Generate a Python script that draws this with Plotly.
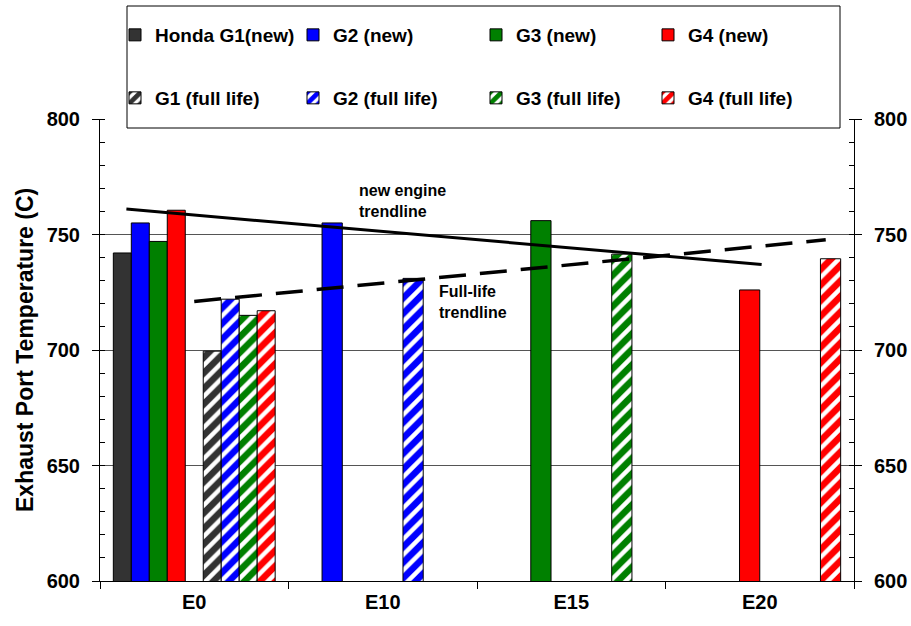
import plotly.graph_objects as go

categories = ["E0", "E10", "E15", "E20"]

# exhaust port temperature (C), None = no bar in that group
g1_new = [742, None, None, None]
g2_new = [755, 755, None, None]
g3_new = [747, None, 756, None]
g4_new = [760.5, None, None, 726]
g1_full = [699.5, None, None, None]
g2_full = [722, 731, None, None]
g3_full = [715, None, 741.5, None]
g4_full = [717, None, None, 739.5]

# trendlines (x in category units, 0 = left edge of E0)
new_trend_x = [0.14, 3.51]
new_trend_y = [761, 737]
full_trend_x = [0.50, 3.85]
full_trend_y = [721, 747.7]

FONT = "Liberation Sans, Arial, Helvetica, sans-serif"

series = [
    ("Honda G1(new)", g1_new, "#333333", 0, False),
    ("G2 (new)", g2_new, "#0000ff", 1, False),
    ("G3 (new)", g3_new, "#008000", 2, False),
    ("G4 (new)", g4_new, "#ff0000", 3, False),
    ("G1 (full life)", g1_full, "#333333", 0, True),
    ("G2 (full life)", g2_full, "#0000ff", 1, True),
    ("G3 (full life)", g3_full, "#008000", 2, True),
    ("G4 (full life)", g4_full, "#ff0000", 3, True),
]

# legend layout: column pixel x of swatch centre, row pixel y
leg_cols = [136, 314, 497, 669]
leg_rows = [35, 98]

MARGIN = 0.0707


def slot_geom(cat, g, full):
    # E0 has 9 slots (gap in the middle), the others 8
    if cat == 0:
        n = 9
        slot = g + (5 if full else 0)
    else:
        n = 8
        slot = g + (4 if full else 0)
    w = (1 - 2 * MARGIN) / n
    return MARGIN + slot * w, w


fig = go.Figure()
layout_legends = {}
for k, (name, vals, color, g, full) in enumerate(series):
    xs, ys, offs, wids = [], [], [], []
    for i, v in enumerate(vals):
        if v is None:
            continue
        o, w = slot_geom(i, g, full)
        xs.append(i)
        ys.append(v)
        offs.append(o)
        wids.append(w)
    marker = dict(color=color, line=dict(color="black", width=1))
    if full:
        marker["pattern"] = dict(shape="/", fgcolor=color, bgcolor="white",
                                 size=11, solidity=0.6, fgopacity=1)
    lname = "legend" if k == 0 else "legend%d" % (k + 1)
    fig.add_trace(go.Bar(x=xs, y=ys, offset=offs, width=wids, name=name,
                         marker=marker, legend=lname))
    col = k % 4
    row = k // 4
    layout_legends[lname] = dict(
        x=(leg_cols[col] - 21) / 911, y=1 - leg_rows[row] / 626,
        xref="container", yref="container",
        xanchor="left", yanchor="middle",
        bgcolor="rgba(0,0,0,0)", borderwidth=0,
        font=dict(family=FONT, size=19, color="black", weight="bold"),
    )

fig.add_trace(go.Scatter(x=new_trend_x, y=new_trend_y, mode="lines",
                         line=dict(color="black", width=3), showlegend=False))
fig.add_trace(go.Scatter(x=full_trend_x, y=full_trend_y, mode="lines",
                         line=dict(color="black", width=3.5, dash="27px,14px"),
                         showlegend=False))
# invisible trace so the right axis is drawn
fig.add_trace(go.Scatter(x=[0], y=[700], yaxis="y2", mode="markers",
                         marker=dict(opacity=0), showlegend=False,
                         hoverinfo="skip"))

fig.update_layout(
    width=911, height=626,
    margin=dict(l=100, r=57, t=119, b=45, autoexpand=False),
    paper_bgcolor="white", plot_bgcolor="white",
    font=dict(family=FONT, color="black", weight="bold"),
    barmode="overlay",
    xaxis=dict(
        range=[0, 4], tickmode="array", tickvals=[0.5, 1.5, 2.5, 3.5],
        ticktext=categories, ticks="", showgrid=False, zeroline=False,
        showline=True, linecolor="black", linewidth=1, automargin=False,
        tickfont=dict(size=20), ticklabelstandoff=3,
        minor=dict(tickmode="array", tickvals=[0, 1, 2, 3, 4], ticks="outside",
                   ticklen=7, tickcolor="black", showgrid=False),
    ),
    yaxis=dict(
        range=[600, 800], tick0=600, dtick=50, ticks="outside", ticklen=7,
        tickcolor="black", showline=True, linecolor="black", linewidth=1,
        showgrid=True, gridcolor="#555555", gridwidth=1, zeroline=False,
        tickfont=dict(size=20), ticklabelstandoff=8, automargin=False,
        minor=dict(dtick=10, ticks="inside", ticklen=5, tickcolor="black",
                   showgrid=False),
    ),
    yaxis2=dict(
        range=[600, 800], tick0=600, dtick=50, overlaying="y", side="right",
        ticks="outside", ticklen=7, tickcolor="black", showline=True,
        linecolor="black", linewidth=1, showgrid=False, zeroline=False,
        tickfont=dict(size=20), ticklabelstandoff=8, automargin=False,
        minor=dict(dtick=10, ticks="inside", ticklen=5, tickcolor="black"),
    ),
    shapes=[dict(type="rect", xref="paper", yref="paper",
                 x0=(127 - 100) / 754, x1=(840 - 100) / 754,
                 y0=(581 - 128) / 462, y1=(581 - 6) / 462,
                 fillcolor="white", line=dict(color="black", width=1),
                 layer="above")],
    annotations=[
        dict(x=(25 - 100) / 754, y=0.5, xref="paper", yref="paper",
             text="Exhaust Port Temperature (C)", textangle=-90,
             showarrow=False, xanchor="center", yanchor="middle",
             font=dict(size=23)),
        dict(x=1.363, y=764.3, xref="x", yref="y", text="new engine<br>trendline",
             showarrow=False, xanchor="left", yanchor="middle", align="left",
             font=dict(size=16)),
        dict(x=1.788, y=720.6, xref="x", yref="y", text="Full-life<br>trendline",
             showarrow=False, xanchor="left", yanchor="middle", align="left",
             font=dict(size=16)),
    ],
    **layout_legends,
)

fig.write_html("out.html", config={"displayModeBar": False},
               post_script="document.body.style.margin='0px';")
